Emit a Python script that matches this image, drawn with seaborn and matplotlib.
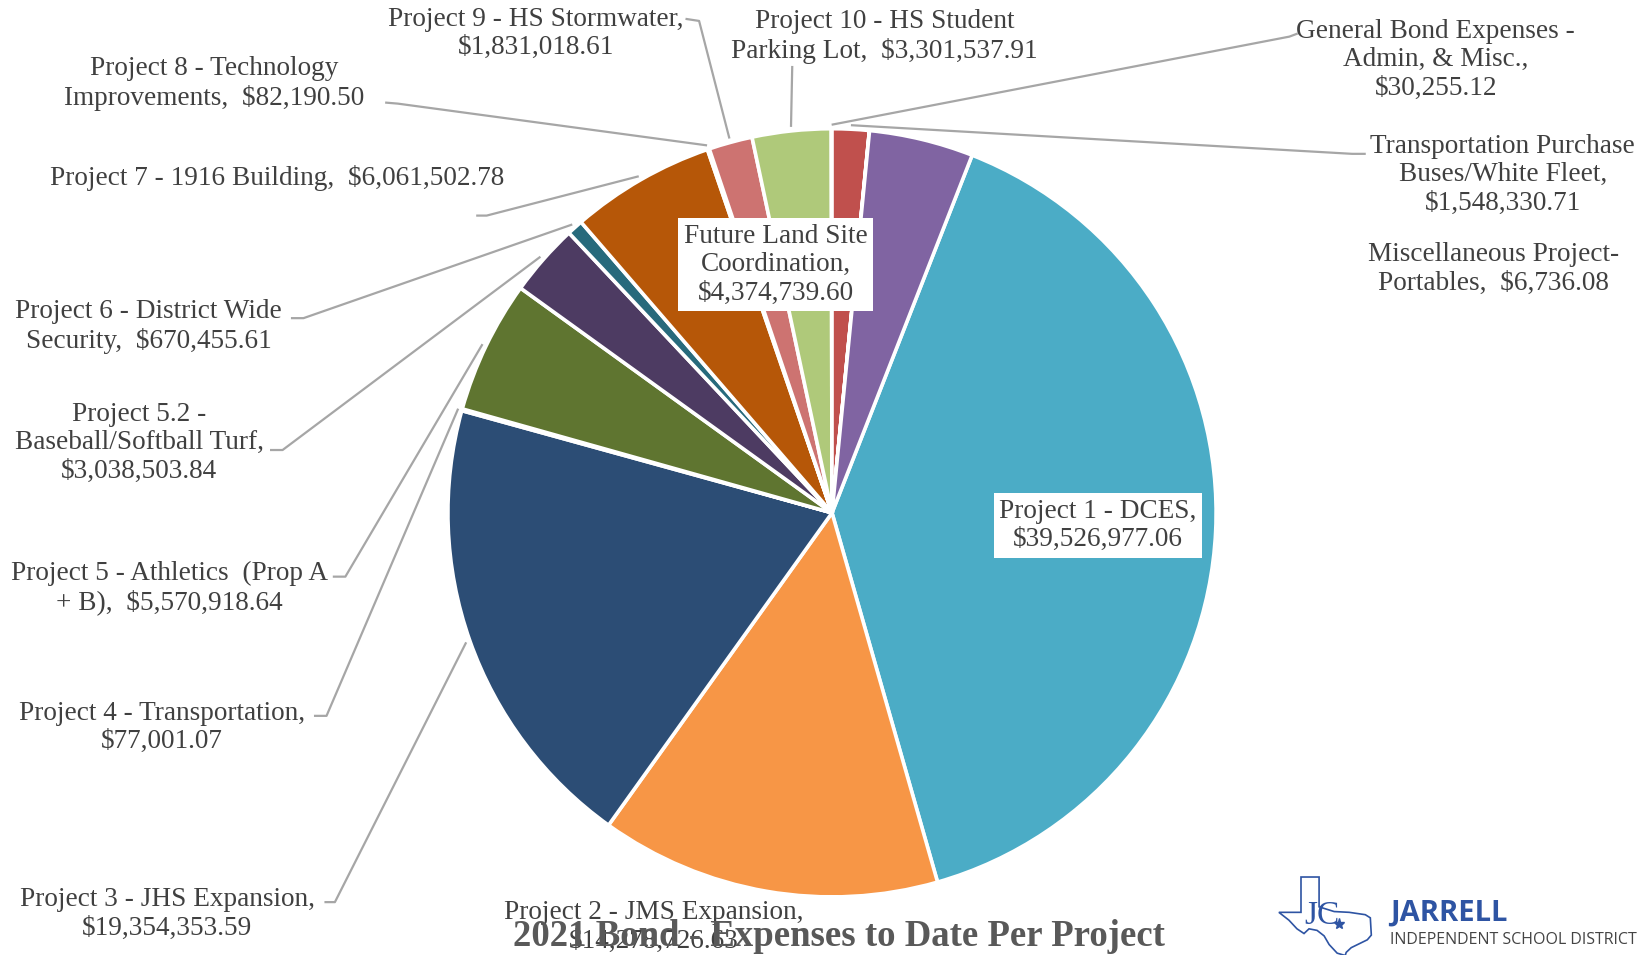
import numpy as np
import matplotlib
matplotlib.use("Agg")
import matplotlib.pyplot as plt
import seaborn as sns
from matplotlib.patches import Polygon

# ---------------- data ----------------
categories = [
    "Project 1 - DCES", "Project 2 - JMS Expansion", "Project 3 - JHS Expansion",
    "Project 4 - Transportation", "Project 5 - Athletics (Prop A + B)",
    "Project 5.2 - Baseball/Softball Turf", "Project 6 - District Wide Security",
    "Project 7 - 1916 Building", "Project 8 - Technology Improvements",
    "Project 9 - HS Stormwater", "Project 10 - HS Student Parking Lot",
    "General Bond Expenses - Admin, & Misc.", "Transportation Purchase Buses/White Fleet",
    "Miscellaneous Project- Portables", "Future Land Site Coordination",
]
values = [39526977.06, 14278726.63, 19354353.59, 77001.07, 5570918.64,
          3038503.84, 670455.61, 6061502.78, 82190.50, 1831018.61,
          3301537.91, 30255.12, 1548330.71, 6736.08, 4374739.60]
label_texts = [
    "Project 1 - DCES,\n$39,526,977.06",
    "Project 2 - JMS Expansion,\n$14,278,726.63",
    "Project 3 - JHS Expansion,\n$19,354,353.59",
    "Project 4 - Transportation,\n$77,001.07",
    "Project 5 - Athletics  (Prop A\n+ B),  $5,570,918.64",
    "Project 5.2 -\nBaseball/Softball Turf,\n$3,038,503.84",
    "Project 6 - District Wide\nSecurity,  $670,455.61",
    "Project 7 - 1916 Building,  $6,061,502.78",
    "Project 8 - Technology\nImprovements,  $82,190.50",
    "Project 9 - HS Stormwater,\n$1,831,018.61",
    "Project 10 - HS Student\nParking Lot,  $3,301,537.91",
    "General Bond Expenses -\nAdmin, & Misc.,\n$30,255.12",
    "Transportation Purchase\nBuses/White Fleet,\n$1,548,330.71",
    "Miscellaneous Project-\nPortables,  $6,736.08",
    "Future Land Site\nCoordination,\n$4,374,739.60",
]
colors = ["#4BACC6", "#F79646", "#2C4D75", "#772C2A", "#5F7530", "#4D3B62",
          "#276A7C", "#B65708", "#729ACA", "#CD7371", "#AFC97A", "#4F81BD",
          "#C0504D", "#9BBB59", "#8064A2"]
title = "2021 Bond - Expenses to Date Per Project"

# ---------------- layout (pixel positions, top-origin, in 1568-wide reference units) ----------------
S = 1641 / 1568
W, H = 1641, 955
# (text centre x, text centre y, boxed, leader-line points from label towards pie)
label_layout = [
    (1049, 502, True, None),
    (625, 886, False, None),
    (160, 873, False, [(310, 862), (320, 862)]),
    (155, 695, False, [(300, 684), (312, 684)]),
    (162, 562, False, [(318, 551), (330, 551)]),
    (133, 423, False, [(258, 430), (270, 430)]),
    (142, 312, False, [(278, 304), (290, 304)]),
    (265, 170, False, [(455, 206), (465, 206)]),
    (205, 80, False, [(368, 98), (380, 99)]),
    (512, 32, False, [(655, 18), (668, 20)]),
    (845, 35, False, [(757, 63)]),
    (1372, 57, False, [(1240, 32), (1232, 35)]),
    (1436, 167, False, [(1305, 147), (1292, 147)]),
    (1427, 257, False, None),
    (741, 253, True, None),
]

sns.set_theme(style="white")
plt.rcParams['font.family'] = ['Liberation Serif', 'DejaVu Serif']

fig = plt.figure(figsize=(W / 100, H / 100), dpi=100)
ax = fig.add_axes([0, 0, 1, 1])

def px(x, y):
    return x * S, H - y * S

cx, cy = px(795, 490)
R = 367 * S
total = float(np.sum(values))
start = 90 - 360 * sum(values[-3:]) / total

wedges, _ = ax.pie(values, colors=colors, startangle=start, counterclock=False,
                   center=(cx, cy), radius=R, frame=True,
                   wedgeprops=dict(edgecolor="white", linewidth=2.6))
ax.set_xlim(0, W)
ax.set_ylim(0, H)
ax.set_aspect("equal")
ax.axis("off")

txt_color = "#404040"
line_color = "#A6A6A6"
fs = 19.6
for w, txt, (lx, ly, boxed, pts) in zip(wedges, label_texts, label_layout):
    x, y = px(lx, ly)
    kw = {}
    if boxed:
        kw["bbox"] = dict(facecolor="white", edgecolor="none", boxstyle="square,pad=0.2")
    ax.text(x, y, txt, ha="center", va="center", multialignment="center",
            fontsize=fs, color=txt_color, linespacing=1.19, zorder=5, **kw)
    if pts:
        mid = np.deg2rad((w.theta1 + w.theta2) / 2)
        ex = cx + (R + 4) * np.cos(mid)
        ey = cy + (R + 4) * np.sin(mid)
        xs = [px(p[0], p[1])[0] for p in pts] + [ex]
        ys = [px(p[0], p[1])[1] for p in pts] + [ey]
        ax.plot(xs, ys, color=line_color, lw=1.6, zorder=1, solid_capstyle="butt")

# title
tx, ty = px(802, 895)
ax.text(tx, ty, title, ha="center", va="center", fontsize=26.5, fontweight="bold",
        color="#595959", zorder=6)

# logo (decorative)
blue = "#2E54A3"
lx0, ly0, lw_, lh_ = 1222, 838, 96, 75
tex = [(0.22, 0.0), (0.40, 0.0), (0.40, 0.38), (0.55, 0.44), (0.70, 0.45), (0.86, 0.48),
       (0.91, 0.52), (0.92, 0.74), (0.88, 0.80), (0.80, 0.85), (0.72, 0.90), (0.67, 0.96),
       (0.66, 1.0), (0.58, 0.97), (0.50, 0.86), (0.45, 0.75), (0.38, 0.68), (0.30, 0.66),
       (0.25, 0.72), (0.18, 0.66), (0.10, 0.55), (0.0, 0.45), (0.22, 0.45)]
poly = [px(lx0 + a * lw_, ly0 + b * lh_) for a, b in tex]
ax.add_patch(Polygon(poly, closed=True, fill=False, edgecolor=blue, lw=1.2, zorder=5))
jx, jy = px(1263, 875)
ax.text(jx, jy, "JC", ha="center", va="center", fontsize=24, color=blue,
        family=["Liberation Serif"], zorder=6)
sx, sy = px(1279, 883)
ax.plot([sx], [sy], marker="*", color=blue, markersize=8, zorder=7)
jx, jy = px(1328, 872)
ax.text(jx, jy, "JARRELL", ha="left", va="center", fontsize=21, fontweight="bold",
        color=blue, family=["Open Sans", "DejaVu Sans"], zorder=6)
jx, jy = px(1328, 898)
ax.text(jx, jy, "INDEPENDENT SCHOOL DISTRICT", ha="left", va="center", fontsize=11.5,
        color="#444444", family=["Open Sans", "DejaVu Sans"], zorder=6)

fig.savefig("out.png", dpi=100, facecolor="white")
